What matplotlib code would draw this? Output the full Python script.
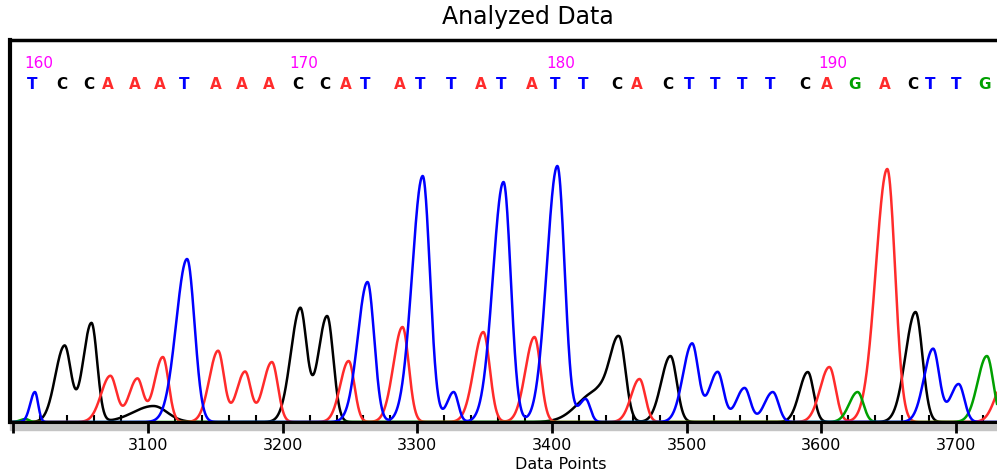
import numpy as np
import matplotlib.pyplot as plt
from matplotlib.patches import Rectangle
from matplotlib.ticker import MultipleLocator
import matplotlib.transforms as mtransforms

# base calls across the top, with the peak that sits under each one
bases = list("TCCAAATAAACCATATTATATTCACTTTTCAGACTTG")
base_pos = [3016, 3038, 3058, 3072, 3092, 3111, 3129, 3152, 3172, 3192,
            3213, 3233, 3249, 3263, 3289, 3304, 3327, 3349, 3364, 3387,
            3404, 3425, 3450, 3465, 3488, 3504, 3523, 3543, 3564, 3590,
            3606, 3627, 3649, 3670, 3683, 3702, 3723]
peak_height = [30, 76, 99, 46, 43, 65, 163, 71, 50, 60,
               113, 106, 61, 140, 95, 246, 30, 90, 240, 85,
               256, 23, 80, 43, 66, 78, 50, 34, 30, 50,
               55, 30, 253, 110, 73, 38, 66]
peak_width = [2.8, 5.5, 5.0, 5.5, 5.0, 5.0, 6.5, 5.2, 5.0, 5.2,
              5.6, 5.4, 5.0, 5.8, 5.4, 6.3, 4.0, 5.6, 6.3, 5.4,
              6.3, 4.0, 5.5, 5.0, 5.5, 5.4, 5.2, 5.0, 5.0, 5.0,
              5.5, 5.0, 6.8, 6.0, 5.4, 5.0, 5.5]

# smaller peaks that got no call
extra_base = ["G", "C", "C", "A"]
extra_pos = [3009, 3104, 3433, 3736]
extra_height = [3, 16, 30, 40]
extra_width = [3.0, 12.0, 11.0, 5.5]

base_numbers = ["160", "170", "180", "190"]
base_number_idx = [0, 10, 20, 30]

xticks = [3000, 3100, 3200, 3300, 3400, 3500, 3600, 3700]
xtick_labels = ["", "3100", "3200", "3300", "3400", "3500", "3600", "3700"]

colors = {"A": "#ff2b2b", "C": "#000000", "G": "#00a000", "T": "#0000ff"}


def peak(x, c, h, s):
    # peaks rise slower than they fall
    sig = np.where(x < c, s * 1.25, s * 0.85)
    return h * np.exp(-0.5 * ((x - c) / sig) ** 2)


x = np.linspace(2997.5, 3730.5, 3000)
traces = {b: np.zeros_like(x) for b in "ACGT"}
for b, c, h, s in zip(bases, base_pos, peak_height, peak_width):
    traces[b] += peak(x, c, h, s)
for b, c, h, s in zip(extra_base, extra_pos, extra_height, extra_width):
    traces[b] += peak(x, c, h, s)

fig = plt.figure(figsize=(9.97, 4.77), dpi=100)
ax = fig.add_axes([10 / 997, 54 / 477, 987 / 997, 382 / 477])

for b in "CAGT":
    ax.plot(x, traces[b], color=colors[b], lw=1.8, zorder=2)

ax.set_xlim(2997.5, 3730.5)
ax.set_ylim(0, 382)
ax.set_yticks([])

ax.set_xticks(xticks)
ax.set_xticklabels(xtick_labels)
ax.xaxis.set_minor_locator(MultipleLocator(20))
ax.tick_params(axis="x", which="major", direction="out", length=8, width=2,
               pad=3, labelsize=11.5)
ax.tick_params(axis="x", which="minor", direction="in", length=5, width=1.5)

ax.spines["right"].set_visible(False)
ax.spines["left"].set_linewidth(3)
ax.spines["top"].set_linewidth(2.5)
ax.spines["bottom"].set_linewidth(2.2)

# grey strip under the axis line
ax.add_patch(Rectangle((0, -0.022), 1, 0.022, transform=ax.transAxes,
                       color="#c4c4c4", clip_on=False, zorder=0))

trans = mtransforms.blended_transform_factory(ax.transData, ax.transAxes)
for b, c in zip(bases, base_pos):
    ax.text(c - 2, 0.887, b, transform=trans, color=colors[b], ha="center",
            va="center", fontsize=11, fontweight="bold")
for lab, i in zip(base_numbers, base_number_idx):
    ax.text(base_pos[i] - 8, 0.942, lab, transform=trans, color="#ff00ff",
            ha="left", va="center", fontsize=11)

ax.set_xlabel("Data Points", fontsize=11.5)
ax.xaxis.set_label_coords(0.558, -0.088)

fig.text(0.5296, 0.964, "Analyzed Data", ha="center", va="center", fontsize=17)

fig.savefig("out.png", dpi=100)
